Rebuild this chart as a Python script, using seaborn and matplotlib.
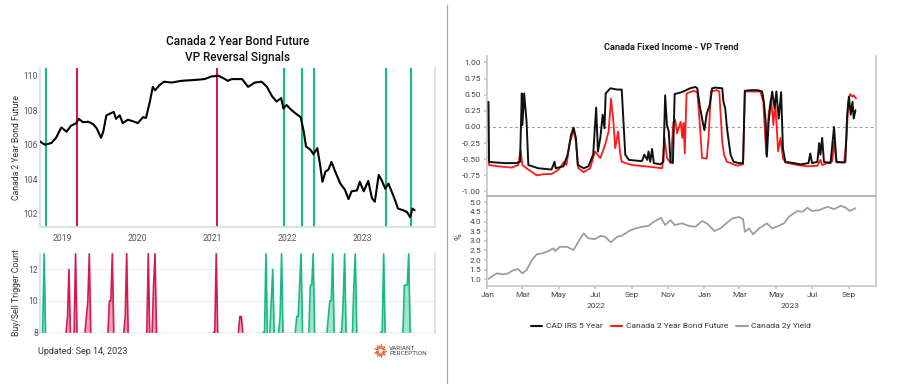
import matplotlib

matplotlib.use("Agg")
import matplotlib.dates as mdates
import matplotlib.pyplot as plt
import matplotlib.transforms as mtransforms
import numpy as np
import pandas as pd
import seaborn as sns
from matplotlib.lines import Line2D

W, H = 902, 384

# ---- left panel: Canada 2 Year Bond Future price ----
price_dates = [
    "2018-09-13", "2018-10-09", "2018-11-10", "2018-12-02", "2018-12-28",
    "2019-01-22", "2019-02-13", "2019-03-11", "2019-03-22", "2019-04-13",
    "2019-05-08", "2019-05-31", "2019-06-18", "2019-07-09", "2019-07-20",
    "2019-08-04", "2019-08-22", "2019-09-09", "2019-09-20", "2019-10-08",
    "2019-10-23", "2019-11-17", "2019-12-13", "2020-01-04", "2020-01-30",
    "2020-02-13", "2020-03-03", "2020-03-17", "2020-03-28", "2020-04-19",
    "2020-05-11", "2020-06-17", "2020-08-03", "2020-10-08", "2020-11-24",
    "2020-12-27", "2021-01-29", "2021-02-24", "2021-03-17", "2021-04-05",
    "2021-05-04", "2021-05-26", "2021-06-24", "2021-07-27", "2021-08-29",
    "2021-09-24", "2021-10-19", "2021-11-10", "2021-12-02", "2021-12-13",
    "2021-12-28", "2022-01-22", "2022-02-17", "2022-03-07", "2022-03-22",
    "2022-04-02", "2022-04-24", "2022-05-08", "2022-05-27", "2022-06-10",
    "2022-06-21", "2022-07-06", "2022-07-20", "2022-08-04", "2022-08-22",
    "2022-09-16", "2022-10-08", "2022-10-26", "2022-11-10", "2022-12-06",
    "2022-12-20", "2023-01-08", "2023-01-30", "2023-02-17", "2023-03-03",
    "2023-03-22", "2023-04-05", "2023-04-23", "2023-05-08", "2023-06-03",
    "2023-06-24", "2023-07-20", "2023-08-07", "2023-08-22", "2023-09-02",
    "2023-09-13",
]
price_values = [
    106.2, 106.0, 106.1, 106.4, 107.0,
    106.75, 107.1, 107.25, 107.5, 107.3,
    107.33, 107.2, 106.95, 106.4, 106.75,
    107.7, 107.8, 107.9, 107.5, 107.7,
    107.25, 107.45, 107.35, 107.25, 107.6,
    107.55, 108.5, 109.35, 109.15, 109.45,
    109.65, 109.6, 109.7, 109.75, 109.8,
    109.95, 110.0, 109.85, 109.7, 109.8,
    109.8, 109.8, 109.35, 109.6, 109.65,
    109.35, 108.8, 108.5, 108.7, 108.1,
    108.3, 108.0, 107.75, 107.6, 106.75,
    105.9, 105.7, 105.45, 105.8, 104.8,
    103.85, 104.45, 104.55, 105.0, 104.45,
    103.75, 103.4, 102.85, 103.3, 103.35,
    103.85, 103.3, 103.9, 102.9, 102.7,
    104.25, 103.95, 103.45, 103.75, 103.0,
    102.3, 102.2, 102.1, 101.8, 102.3,
    102.2,
]

signal_dates = ["2018-10-12", "2019-03-15", "2021-01-22", "2021-12-17",
                "2022-03-14", "2022-05-12", "2023-04-27", "2023-08-25"]
signal_sides = ["buy", "sell", "sell", "buy", "buy", "buy", "buy", "buy"]

# trigger count episodes, one value per week
trigger_starts = [
    "2018-09-28", "2019-01-20", "2019-02-28", "2019-04-22", "2019-08-12",
    "2019-10-28", "2020-02-17", "2020-03-14", "2021-01-06", "2021-05-08",
    "2021-09-05", "2021-10-08", "2021-11-20", "2022-02-09", "2022-04-16",
    "2022-07-13", "2022-09-16", "2022-11-14", "2023-04-01", "2023-07-18",
]
trigger_sides = ["buy"] + ["sell"] * 9 + ["buy"] * 10
trigger_counts = [
    [8, 13, 8], [8, 9, 12, 8], [8, 13, 8], [8, 9, 10, 13, 8], [8, 10, 10, 13, 8],
    [8, 9, 13, 8], [8, 13, 8], [8, 11, 13, 8], [8, 8, 13, 8], [8, 9, 9, 8],
    [8, 8, 13, 8], [8, 10, 12, 8], [8, 9, 13, 8], [8, 9, 9, 11, 13, 8], [8, 11, 11, 13, 8],
    [8, 9, 10, 10, 13, 8], [8, 8, 10, 13, 8], [8, 11, 13, 8], [8, 8, 13, 8], [8, 11, 11, 11, 13, 8],
]

# ---- right panel: VP trend ----
irs_dates = [
    "2022-01-03", "2022-01-04", "2022-01-14", "2022-01-31", "2022-02-19", "2022-02-25",
    "2022-02-28", "2022-03-01", "2022-03-04", "2022-03-08", "2022-03-11", "2022-03-28",
    "2022-04-19", "2022-04-24", "2022-04-26", "2022-05-09", "2022-05-16", "2022-05-22",
    "2022-05-26", "2022-05-30", "2022-06-02", "2022-06-12", "2022-06-20", "2022-06-28",
    "2022-07-03", "2022-07-06", "2022-07-10", "2022-07-14", "2022-07-17", "2022-07-19",
    "2022-07-27", "2022-08-07", "2022-08-15", "2022-08-21", "2022-08-27", "2022-09-18",
    "2022-09-22", "2022-09-27", "2022-09-29", "2022-10-02", "2022-10-05", "2022-10-08",
    "2022-10-19", "2022-10-24", "2022-10-27", "2022-10-30", "2022-11-02", "2022-11-05",
    "2022-11-09", "2022-11-12", "2022-11-24", "2022-12-08", "2022-12-17", "2022-12-20",
    "2022-12-24", "2022-12-28", "2023-01-01", "2023-01-05", "2023-01-10", "2023-01-14",
    "2023-01-19", "2023-01-31", "2023-02-02", "2023-02-05", "2023-02-08", "2023-02-11",
    "2023-02-14", "2023-02-19", "2023-02-28", "2023-03-07", "2023-03-10", "2023-03-19",
    "2023-03-31", "2023-04-08", "2023-04-11", "2023-04-14", "2023-04-16", "2023-04-19",
    "2023-04-22", "2023-04-25", "2023-04-29", "2023-05-02", "2023-05-06", "2023-05-10",
    "2023-05-13", "2023-05-17", "2023-05-31", "2023-06-12", "2023-06-25", "2023-06-28",
    "2023-07-01", "2023-07-10", "2023-07-13", "2023-07-15", "2023-07-18", "2023-07-21",
    "2023-08-01", "2023-08-07", "2023-08-11", "2023-08-24", "2023-08-26", "2023-08-29",
    "2023-09-01", "2023-09-04", "2023-09-07", "2023-09-09", "2023-09-12",
]
irs_values = [
    0.39, -0.54, -0.55, -0.56, -0.56, -0.54,
    0.52, 0.03, 0.52, 0.08, -0.59, -0.64,
    -0.66, -0.54, -0.64, -0.61, -0.43, -0.12,
    -0.01, -0.17, -0.59, -0.64, -0.61, -0.43,
    0.30, -0.38, -0.17, 0.19, -0.02, 0.52,
    0.60, 0.58, 0.58, -0.43, -0.51, -0.53,
    -0.43, -0.51, -0.38, -0.54, -0.34, -0.56,
    -0.58, -0.54, 0.49, 0.03, -0.07, -0.54,
    -0.56, 0.51, 0.54, 0.60, 0.62, 0.60,
    0.34, 0.13, -0.05, 0.21, 0.34, 0.60,
    0.61, 0.60, 0.39, 0.29, -0.02, -0.23,
    -0.43, -0.54, -0.56, -0.56, 0.56, 0.57,
    0.57, 0.55, 0.39, 0.08, -0.46, 0.08,
    0.34, 0.55, 0.29, 0.55, 0.13, 0.54,
    -0.33, -0.54, -0.56, -0.58, -0.56, -0.41,
    -0.56, -0.54, -0.25, -0.43, -0.17, -0.54,
    -0.56, 0.00, -0.54, -0.55, -0.54, 0.19,
    0.47, 0.19, 0.39, 0.13, 0.26,
]

fut_dates = [
    "2022-01-03", "2022-01-04", "2022-01-19", "2022-02-11", "2022-02-22", "2022-02-26",
    "2022-03-01", "2022-03-11", "2022-03-25", "2022-04-08", "2022-04-19", "2022-05-01",
    "2022-05-10", "2022-05-14", "2022-05-20", "2022-05-26", "2022-05-30", "2022-06-03",
    "2022-06-12", "2022-06-23", "2022-07-01", "2022-07-10", "2022-07-18", "2022-07-24",
    "2022-07-28", "2022-08-01", "2022-08-04", "2022-08-09", "2022-08-12", "2022-08-15",
    "2022-09-01", "2022-09-24", "2022-10-22", "2022-10-26", "2022-10-30", "2022-11-05",
    "2022-11-10", "2022-11-13", "2022-11-16", "2022-11-22", "2022-11-25", "2022-11-27",
    "2022-11-29", "2022-12-02", "2022-12-14", "2022-12-20", "2022-12-24", "2022-12-28",
    "2023-01-05", "2023-01-08", "2023-01-12", "2023-01-22", "2023-01-26", "2023-01-31",
    "2023-02-03", "2023-02-08", "2023-02-14", "2023-02-25", "2023-03-07", "2023-03-10",
    "2023-04-05", "2023-04-10", "2023-04-15", "2023-04-19", "2023-04-23", "2023-04-27",
    "2023-04-30", "2023-05-05", "2023-05-09", "2023-05-13", "2023-05-17", "2023-06-06",
    "2023-06-24", "2023-07-10", "2023-07-15", "2023-07-18", "2023-08-04", "2023-08-07",
    "2023-08-11", "2023-08-24", "2023-08-28", "2023-08-31", "2023-09-03", "2023-09-07",
    "2023-09-09", "2023-09-13",
]
fut_values = [
    -0.36, -0.59, -0.61, -0.63, -0.59, -0.36,
    -0.59, -0.66, -0.75, -0.73, -0.73, -0.66,
    -0.54, -0.59, -0.23, -0.05, -0.23, -0.64,
    -0.70, -0.64, -0.38, -0.48, -0.28, -0.07,
    0.44, 0.08, -0.33, -0.07, -0.38, -0.54,
    -0.59, -0.61, -0.64, -0.17, -0.48, -0.56,
    0.08, 0.11, -0.10, 0.08, -0.17, 0.06,
    -0.41, 0.52, 0.56, 0.54, 0.08, -0.48,
    -0.49, -0.17, 0.55, 0.57, 0.55, -0.23,
    -0.43, -0.54, -0.56, -0.60, -0.58, 0.55,
    0.55, 0.39, -0.43, 0.21, 0.44, 0.03,
    0.39, -0.38, -0.17, -0.48, -0.55, -0.59,
    -0.61, -0.60, -0.51, -0.59, -0.53, -0.23,
    -0.55, -0.55, -0.17, 0.39, 0.51, 0.47,
    0.49, 0.44,
]

yield_dates = [
    "2022-01-03", "2022-01-08", "2022-01-17", "2022-01-28", "2022-02-05", "2022-02-14",
    "2022-02-22", "2022-03-01", "2022-03-08", "2022-03-17", "2022-03-25", "2022-04-03",
    "2022-04-14", "2022-04-22", "2022-04-25", "2022-05-03", "2022-05-15", "2022-05-26",
    "2022-06-03", "2022-06-12", "2022-06-20", "2022-07-01", "2022-07-10", "2022-07-18",
    "2022-07-28", "2022-08-07", "2022-08-15", "2022-08-27", "2022-09-07", "2022-09-18",
    "2022-09-29", "2022-10-08", "2022-10-16", "2022-10-20", "2022-10-27", "2022-11-05",
    "2022-11-12", "2022-11-24", "2022-12-06", "2022-12-17", "2022-12-28", "2023-01-05",
    "2023-01-18", "2023-01-28", "2023-02-05", "2023-02-17", "2023-02-28", "2023-03-07",
    "2023-03-10", "2023-03-17", "2023-03-24", "2023-04-03", "2023-04-16", "2023-04-25",
    "2023-05-06", "2023-05-15", "2023-05-23", "2023-06-06", "2023-06-15", "2023-06-23",
    "2023-07-01", "2023-07-13", "2023-07-27", "2023-08-07", "2023-08-18", "2023-08-27",
    "2023-09-02", "2023-09-12",
]
yield_values = [
    1.02, 1.14, 1.31, 1.26, 1.31, 1.48,
    1.53, 1.31, 1.48, 2.00, 2.30, 2.35,
    2.47, 2.61, 2.47, 2.69, 2.69, 2.52,
    2.95, 3.39, 3.13, 3.09, 3.26, 3.21,
    2.92, 3.21, 3.26, 3.51, 3.65, 3.73,
    3.78, 3.99, 4.13, 4.20, 3.82, 4.08,
    3.82, 3.91, 3.78, 3.73, 4.03, 3.91,
    3.51, 3.65, 3.86, 4.17, 4.24, 4.13,
    3.47, 3.65, 3.34, 3.65, 3.91, 3.65,
    3.78, 3.91, 4.25, 4.55, 4.51, 4.72,
    4.55, 4.60, 4.77, 4.65, 4.82, 4.72,
    4.55, 4.69,
]

BUY = "#17ba86"
SELL = "#d9184f"
SIDE_COLORS = {"buy": BUY, "sell": SELL}
LEFT_SPINE = "#d6dee6"
RIGHT_SPINE = "#c8c8c8"


def px_rect(left, top, right, bottom):
    return [left / W, 1 - bottom / H, (right - left) / W, (bottom - top) / H]


sns.set_theme(style="white")
plt.rcParams["font.family"] = ["Roboto", "DejaVu Sans"]

fig = plt.figure(figsize=(W / 100, H / 100), dpi=100)

# ================= left panel =================
ax_p = fig.add_axes(px_rect(40, 67.7, 435, 226.7))
ax_t = fig.add_axes(px_rect(40, 253, 435, 333))
xlim_left = (pd.Timestamp("2018-09-15"), pd.Timestamp("2023-12-21"))

for d, side in zip(signal_dates, signal_sides):
    ax_p.axvline(pd.Timestamp(d), color=SIDE_COLORS[side], lw=1.5, zorder=1)

sns.lineplot(x=pd.to_datetime(price_dates), y=price_values, ax=ax_p,
             color="black", lw=1.5, zorder=3)
ax_p.set_xlim(xlim_left)
ax_p.set_ylim(101.25, 110.46)
ax_p.set_yticks([102, 104, 106, 108, 110])
ax_p.xaxis.set_major_locator(mdates.YearLocator())
ax_p.xaxis.set_major_formatter(mdates.DateFormatter("%Y"))
ax_p.set_ylabel("Canada 2 Year Bond Future", fontsize=6.2, color="#333")
ax_p.yaxis.set_label_coords(-0.047, 0.5)
ax_p.set_xlabel("")
ax_p.tick_params(axis="both", labelsize=6.2, colors="#555", pad=1.5)
ax_p.tick_params(axis="x", length=3, color=LEFT_SPINE, pad=2)
ax_p.tick_params(axis="y", length=0)
for s in ["left", "bottom", "right"]:
    ax_p.spines[s].set_color(LEFT_SPINE)
ax_p.spines["top"].set_visible(False)
ax_p.set_title("Canada 2 Year Bond Future\nVP Reversal Signals", fontsize=8.5,
               color="#111", pad=5, linespacing=1.3, fontweight="medium")

for start, side, counts in zip(trigger_starts, trigger_sides, trigger_counts):
    days = pd.date_range(start, periods=len(counts), freq="7D")
    c = SIDE_COLORS[side]
    ax_t.fill_between(days, 8, counts, color=c, alpha=0.4, lw=0)
    sns.lineplot(x=days, y=counts, ax=ax_t, color=c, lw=1.2)
ax_t.set_xlim(xlim_left)
ax_t.set_ylim(7.95, 13.05)
ax_t.set_yticks([8, 10, 12])
ax_t.yaxis.grid(True, color="#e9eef1", lw=0.8)
ax_t.set_xticks([])
ax_t.set_xlabel("")
ax_t.set_ylabel("Buy/Sell Trigger Count", fontsize=6.2, color="#333")
ax_t.yaxis.set_label_coords(-0.047, 0.5)
ax_t.tick_params(axis="y", labelsize=6.2, colors="#555", length=0, pad=1.5)
for s in ["left", "right"]:
    ax_t.spines[s].set_color(LEFT_SPINE)
for s in ["top", "bottom"]:
    ax_t.spines[s].set_visible(False)

fig.text(38 / W, 1 - 351 / H, "Updated: Sep 14, 2023", fontsize=6.5,
         color="#333", va="center")

# logo
ax_logo = fig.add_axes(px_rect(374, 344, 387, 358))
for i, ang in enumerate(np.linspace(0, 2 * np.pi, 18, endpoint=False)):
    r1 = 1.0 if i % 2 == 0 else 0.8
    ax_logo.plot([0.45 * np.cos(ang), r1 * np.cos(ang)],
                 [0.45 * np.sin(ang), r1 * np.sin(ang)],
                 color="#ec4a2c" if i % 3 else "#f07a3a", lw=0.9)
ax_logo.set_xlim(-1.1, 1.1)
ax_logo.set_ylim(-1.1, 1.1)
ax_logo.axis("off")
fig.text(389 / W, 1 - 351 / H, "VARIANT\nPERCEPTION", fontsize=4.6,
         color="#444", va="center", linespacing=1.0)

# divider
fig.add_artist(Line2D([447 / W, 447 / W], [1 - 383 / H, 1 - 5 / H],
                      color="#a8a8a8", lw=0.9))

# ================= right panel =================
ax_r = fig.add_axes(px_rect(487.3, 56, 875.7, 196))
ax_y = fig.add_axes(px_rect(487.3, 196, 875.7, 285.7))
xlim_right = (pd.Timestamp("2022-01-01"), pd.Timestamp("2023-10-16"))

ax_r.axhline(0, color="#9a9a9a", lw=0.8, ls=(0, (2.5, 2.5)), zorder=1)
sns.lineplot(x=pd.to_datetime(fut_dates), y=fut_values, ax=ax_r,
             color="#ff1a1a", lw=1.3, zorder=2)
sns.lineplot(x=pd.to_datetime(irs_dates), y=irs_values, ax=ax_r,
             color="#111111", lw=1.4, zorder=3)
ax_r.set_xlim(xlim_right)
ax_r.set_ylim(-1.07, 1.10)
ax_r.set_yticks(np.arange(-1.0, 1.01, 0.25))
ax_r.yaxis.set_major_formatter(matplotlib.ticker.FormatStrFormatter("%.2f"))
ax_r.set_xticks([])
ax_r.set_xlabel("")
ax_r.tick_params(axis="y", labelsize=6, colors="#444", length=2.5,
                 color=RIGHT_SPINE, pad=2, left=True)
for s in ["left", "bottom", "right"]:
    ax_r.spines[s].set_color(RIGHT_SPINE)
ax_r.spines["top"].set_visible(False)

sns.lineplot(x=pd.to_datetime(yield_dates), y=yield_values, ax=ax_y,
             color="#9e9e9e", lw=1.3)
ax_y.set_xlim(xlim_right)
ax_y.set_ylim(0.67, 5.33)
ax_y.set_yticks(np.arange(1.0, 5.01, 0.5))
ax_y.yaxis.set_major_formatter(matplotlib.ticker.FormatStrFormatter("%.1f"))
ax_y.xaxis.set_major_locator(mdates.MonthLocator(bymonth=[1, 3, 5, 7, 9, 11]))
ax_y.xaxis.set_major_formatter(mdates.DateFormatter("%b"))
ax_y.set_xlabel("")
ax_y.set_ylabel("%", fontsize=6.5, color="#444")
ax_y.yaxis.set_label_coords(-0.062, 0.55)
ax_y.tick_params(axis="both", labelsize=6, colors="#444", length=2.5,
                 color=RIGHT_SPINE, pad=2, left=True, bottom=True)
for s in ["left", "bottom", "right", "top"]:
    ax_y.spines[s].set_color(RIGHT_SPINE)
ax_y.spines["top"].set_color("#b0b0b0")

# year labels centred on the visible part of each year
trans = mtransforms.blended_transform_factory(ax_y.transData, ax_y.transAxes)
for yr in [2022, 2023]:
    a = max(pd.Timestamp(f"{yr}-01-01"), xlim_right[0])
    b = min(pd.Timestamp(f"{yr + 1}-01-01"), xlim_right[1])
    mid = a + (b - a) / 2
    ax_y.text(mdates.date2num(mid), -0.23, str(yr), transform=trans,
              ha="center", va="center", fontsize=6, color="#444")

fig.text(671 / W, 1 - 47 / H, "Canada Fixed Income - VP Trend", fontsize=6.6,
         fontweight="bold", color="#222", ha="center", va="center")

handles = [Line2D([], [], color="#111111", lw=1.5),
           Line2D([], [], color="#ff1a1a", lw=1.5),
           Line2D([], [], color="#9e9e9e", lw=1.5)]
fig.legend(handles, ["CAD IRS 5 Year", "Canada 2 Year Bond Future", "Canada 2y Yield"],
           loc="center", bbox_to_anchor=(671 / W, 1 - 326 / H), ncol=3,
           frameon=False, fontsize=6, handlelength=1.4, handletextpad=0.4,
           columnspacing=1.0, labelcolor="#333")

fig.savefig("out.png", dpi=100)
